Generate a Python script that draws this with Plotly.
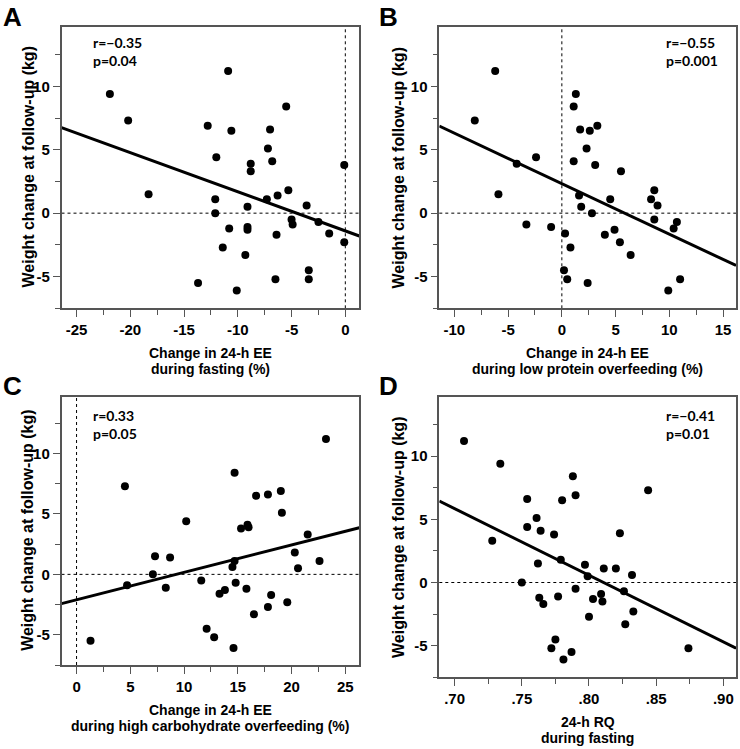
import numpy as np
import plotly.graph_objects as go

# A: change in 24-h EE during fasting (%) vs weight change (kg)
ee_fast = [-21.9, -20.2, -18.3, -10.9, -12.8, -10.6, -12.0, -12.1, -12.1, -10.8,
           -11.4, -13.7, -10.1, -9.3, -9.1, -9.1, -9.1, -8.8, -8.8, -7.3,
           -6.3, -5.3, -7.2, -7.0, -6.8, -5.5, -6.4, -6.5, -5.0, -4.9,
           -3.6, -3.4, -3.4, -2.5, -1.5, -0.1, -0.1]
wt_a = [9.4, 7.3, 1.5, 11.2, 6.9, 6.5, 4.4, 1.1, 0.0, -1.2,
        -2.7, -5.5, -6.1, -3.3, 0.5, -1.1, -1.3, 3.9, 3.3, 1.1,
        1.4, 1.8, 5.1, 6.6, 4.1, 8.4, -1.7, -5.2, -0.5, -0.9,
        0.6, -4.5, -5.2, -0.7, -1.6, 3.8, -2.3]

# B: change in 24-h EE during low protein overfeeding (%)
ee_lowprot = [-8.1, -6.2, -5.9, -4.2, -2.4, -3.3, -1.0, 0.3, 0.8, 0.2,
              0.5, 2.4, 1.3, 1.1, 1.7, 2.6, 3.3, 2.3, 1.1, 3.1,
              1.6, 1.8, 2.8, 5.5, 4.5, 4.0, 4.9, 5.4, 6.4, 8.6,
              8.3, 8.9, 8.6, 10.7, 10.4, 11.0, 9.9]
wt_b = [7.3, 11.2, 1.5, 3.9, 4.4, -0.9, -1.1, -1.6, -2.7, -4.5,
        -5.2, -5.5, 9.4, 8.4, 6.6, 6.5, 6.9, 5.1, 4.1, 3.8,
        1.4, 0.5, 0.0, 3.3, 1.1, -1.7, -1.3, -2.3, -3.3, 1.8,
        1.1, 0.6, -0.5, -0.7, -1.2, -5.2, -6.1]

# C: change in 24-h EE during high carbohydrate overfeeding (%)
ee_highcarb = [1.3, 4.5, 4.7, 7.3, 7.1, 8.7, 8.3, 10.2, 11.6, 12.1,
               12.8, 13.3, 13.8, 14.7, 14.5, 14.7, 14.8, 14.6, 15.3, 15.9,
               16.0, 15.8, 16.7, 16.5, 17.8, 18.1, 17.8, 19.0, 19.1, 19.6,
               20.3, 20.6, 21.5, 22.6, 23.2]
wt_c = [-5.5, 7.3, -0.9, 1.5, 0.0, 1.4, -1.1, 4.4, -0.5, -4.5,
        -5.2, -1.6, -1.3, 8.4, 0.6, 1.1, -0.7, -6.1, 3.8, 4.1,
        3.9, -1.2, 6.5, -3.3, 6.6, -1.7, -2.7, 6.9, 5.1, -2.3,
        1.8, 0.5, 3.3, 1.1, 11.2]

# D: 24-h RQ during fasting
rq_fast = [0.707, 0.734, 0.728, 0.754, 0.761, 0.754, 0.764, 0.774, 0.762, 0.750,
           0.763, 0.766, 0.779, 0.777, 0.775, 0.772, 0.781, 0.787, 0.780, 0.788,
           0.790, 0.790, 0.797, 0.799, 0.800, 0.803, 0.809, 0.810, 0.811, 0.820,
           0.823, 0.826, 0.832, 0.833, 0.827, 0.844, 0.874]
wt_d = [11.2, 9.4, 3.3, 6.6, 5.1, 4.4, 4.1, 3.8, 1.5, 0.0,
        -1.2, -1.7, 1.8, -1.1, -4.5, -5.2, -6.1, -5.5, 6.5, 8.4,
        6.9, -0.5, 1.4, 0.5, -2.7, -1.3, -0.9, -1.5, 1.1, 1.1,
        3.9, -0.7, 0.6, -2.3, -3.3, 7.3, -5.2]

# tick labels (hyphen minus, as in the original)
wt_ticks = [-5, 0, 5, 10]
wt_labels = ["-5", "0", "5", "10"]
fast_ticks = [-25, -20, -15, -10, -5, 0]
fast_labels = ["-25", "-20", "-15", "-10", "-5", "0"]
lowprot_ticks = [-10, -5, 0, 5, 10, 15]
lowprot_labels = ["-10", "-5", "0", "5", "10", "15"]
highcarb_ticks = [0, 5, 10, 15, 20, 25]
highcarb_labels = ["0", "5", "10", "15", "20", "25"]
rq_ticks = [0.70, 0.75, 0.80, 0.85, 0.90]
rq_labels = [".70", ".75", ".80", ".85", ".90"]

W, H = 740, 749
FONT = "Liberation Sans"
FRAME = "#555555"
Y_TITLE = "Weight change at follow-up (kg)"

panels = [
    dict(x=ee_fast, y=wt_a, xrange=[-26.4, 1.3], box=(61.5, 359.3, 26.7, 308.3),
         ticks=(fast_ticks, fast_labels), minor=2.5,
         title=("Change in 24-h EE", "during fasting (%)"), vline=True, ytitle_x=28,
         letter="A", letter_pos=(12, 17), stats="r=\u22120.35<br>p=0.04", stats_pos=(91, 32)),
    dict(x=ee_lowprot, y=wt_b, xrange=[-11.4, 16.2], box=(439.3, 736, 26.7, 308.3),
         ticks=(lowprot_ticks, lowprot_labels), minor=2.5,
         title=("Change in 24-h EE", "during low protein overfeeding (%)"), vline=True, ytitle_x=398,
         letter="B", letter_pos=(388, 17), stats="r=\u22120.55<br>p=0.001", stats_pos=(664, 32)),
    dict(x=ee_highcarb, y=wt_c, xrange=[-1.4, 26.3], box=(61.5, 359.3, 396.7, 665),
         ticks=(highcarb_ticks, highcarb_labels), minor=2.5,
         title=("Change in 24-h EE", "during high carbohydrate overfeeding (%)"), vline=True, ytitle_x=28,
         letter="C", letter_pos=(12, 386), stats="r=0.33<br>p=0.05", stats_pos=(91, 405)),
    dict(x=rq_fast, y=wt_d, xrange=[0.6886, 0.9094], box=(439.3, 736, 396.7, 677.3),
         ticks=(rq_ticks, rq_labels), minor=0.025,
         title=("24-h RQ", "during fasting"), vline=False, ytitle_x=398,
         letter="D", letter_pos=(388, 386), stats="r=\u22120.41<br>p=0.01", stats_pos=(664, 405)),
]


def paper_text(text, x, y, size, family=FONT, **kw):
    d = dict(text=text, x=x / W, y=1 - y / H, xref="paper", yref="paper",
             xanchor="center", yanchor="middle", showarrow=False,
             font=dict(family=family, size=size, color="black", weight="bold"))
    d.update(kw)
    return d


fig = go.Figure()
annotations = []
shapes = []

for i, p in enumerate(panels):
    n = "" if i == 0 else str(i + 1)
    xa, ya = "x" + n, "y" + n
    l, r, t, b = p["box"]

    fig.add_trace(go.Scatter(x=p["x"], y=p["y"], mode="markers", xaxis=xa, yaxis=ya,
                             marker=dict(color="black", size=8), showlegend=False,
                             hoverinfo="skip"))
    slope, icpt = np.polyfit(p["x"], p["y"], 1)
    xs = np.array(p["xrange"])
    fig.add_trace(go.Scatter(x=xs, y=slope * xs + icpt, mode="lines", xaxis=xa, yaxis=ya,
                             line=dict(color="black", width=3), showlegend=False,
                             hoverinfo="skip"))

    tv, tt = p["ticks"]
    fig.layout["xaxis" + n] = dict(
        domain=[l / W, r / W], anchor=ya, range=p["xrange"], automargin=False,
        tickvals=tv, ticktext=tt,
        minor=dict(dtick=p["minor"], ticks="outside", ticklen=5, tickcolor=FRAME),
        showgrid=False, zeroline=False, showline=True, mirror=True,
        linecolor=FRAME, linewidth=1.5, ticks="outside", ticklen=7, tickcolor=FRAME,
        tickfont=dict(family=FONT, size=15, color="black", weight="bold"))
    fig.layout["yaxis" + n] = dict(
        domain=[1 - b / H, 1 - t / H], anchor=xa, range=[-7.5, 14.7], automargin=False,
        tickvals=wt_ticks, ticktext=wt_labels,
        showgrid=False, zeroline=False, showline=True, mirror=True,
        linecolor=FRAME, linewidth=1.5, ticks="outside", ticklen=7, tickcolor=FRAME,
        minor=dict(dtick=2.5, ticks="outside", ticklen=5, tickcolor=FRAME),
        tickfont=dict(family=FONT, size=15, color="black", weight="bold"))

    shapes.append(dict(type="line", xref=xa + " domain", yref=ya, x0=0, x1=1, y0=0, y1=0,
                       line=dict(color="black", width=1, dash="dot"), layer="below"))
    if p["vline"]:
        shapes.append(dict(type="line", xref=xa, yref=ya + " domain", x0=0, x1=0, y0=0, y1=1,
                           line=dict(color="black", width=1, dash="dot"), layer="below"))

    # axis titles
    cx = (l + r) / 2
    annotations.append(paper_text(p["title"][0], cx, b + 45, 14))
    annotations.append(paper_text(p["title"][1], cx, b + 61, 14))
    annotations.append(paper_text(Y_TITLE, p["ytitle_x"], (t + b) / 2, 16, textangle=-90))

    lx, ly = p["letter_pos"]
    annotations.append(paper_text(p["letter"], lx, ly, 26))
    sx, sy = p["stats_pos"]
    annotations.append(paper_text(p["stats"], sx, sy, 14, family="Lato",
                                  xanchor="left", yanchor="top", align="left"))

fig.update_layout(width=W, height=H, margin=dict(l=0, r=0, t=0, b=0),
                  paper_bgcolor="white", plot_bgcolor="white", hovermode=False,
                  annotations=annotations, shapes=shapes)

fig.write_html("out.html", config={"displayModeBar": False},
               post_script="document.body.style.margin='0px';")
